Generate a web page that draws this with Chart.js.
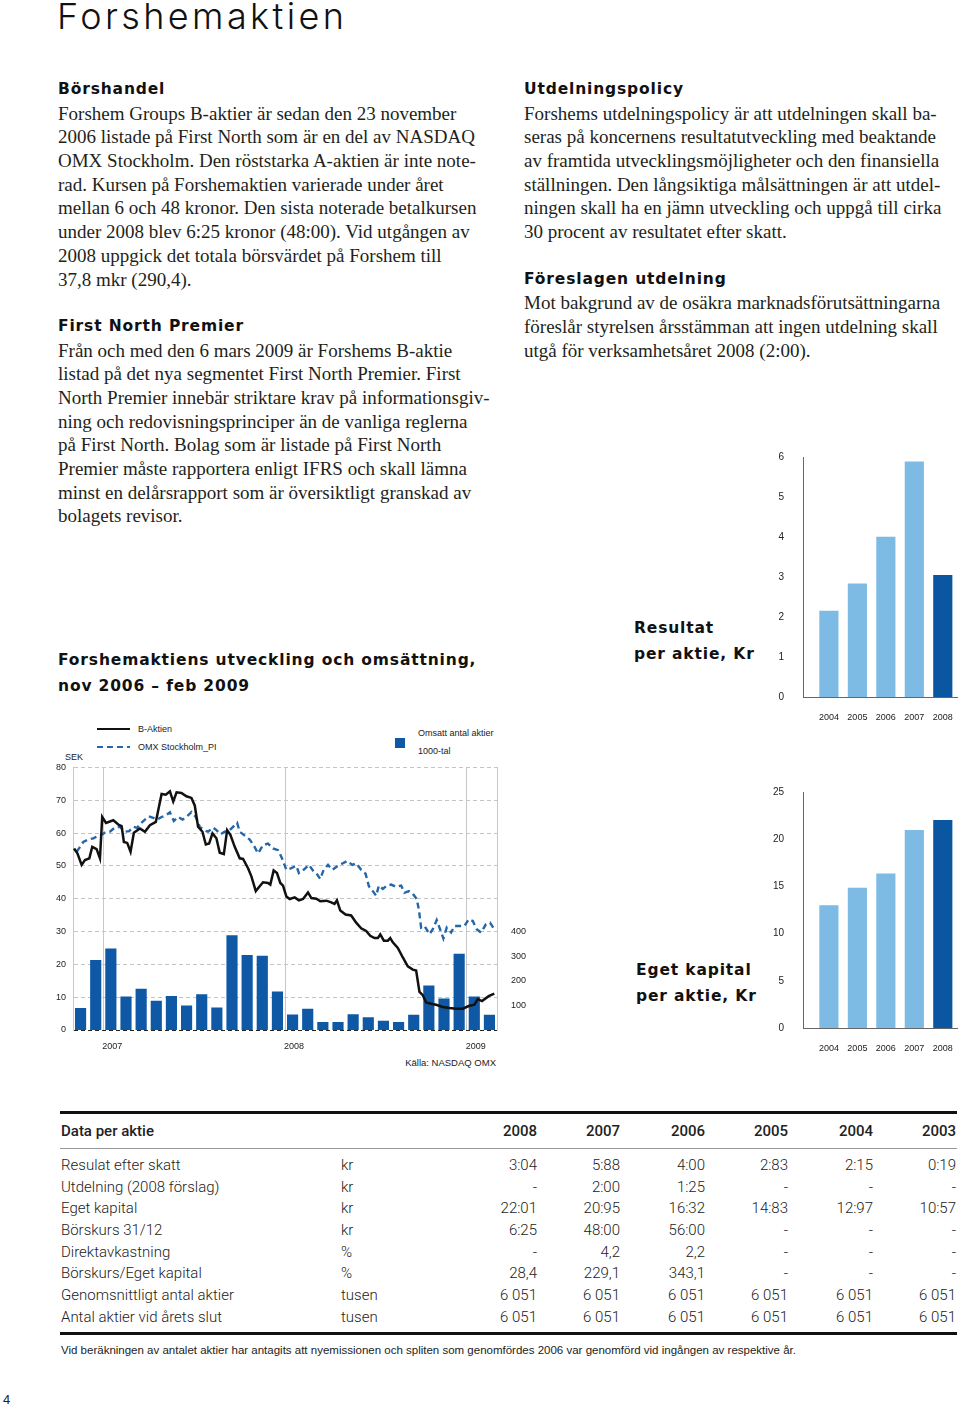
<!DOCTYPE html>
<html lang="sv">
<head>
<meta charset="utf-8">
<title>Forshemaktien</title>
<script src="https://cdn.jsdelivr.net/npm/chart.js@4.4.0/dist/chart.umd.min.js"></script>
<style>
  body { margin: 0; background: #fff; }
  #page { position: relative; width: 960px; height: 1408px; overflow: hidden; color: #231f20; font-family: "Liberation Serif", serif; }
  .abs { position: absolute; white-space: nowrap; }
  .title { left: 57px; top: 1px; font: 300 36px Inter, "Liberation Sans", sans-serif; line-height: 30px; letter-spacing: 3.4px; color: #111; }
  .col { position: absolute; width: 440px; }
  .col div { height: 23.7px; line-height: 23.7px; white-space: nowrap; font-size: 19px; }
  .col div.h, .ch div { font-family: "DejaVu Sans", sans-serif; font-weight: bold; font-size: 15.5px; letter-spacing: 0.85px; color: #111; }
  .ch { position: absolute; }
  .ch div { height: 26px; line-height: 26px; white-space: nowrap; }
  .sm { font: 9px "Liberation Sans", Arial, sans-serif; color: #222; line-height: 12px; }
  canvas { position: absolute; }
  .tbl { position: absolute; left: 61px; border-collapse: collapse; table-layout: fixed; font: 300 15px Roboto, "Liberation Sans", sans-serif; color: #222; }
  .tbl td { padding: 0; white-space: nowrap; }
  .tbl td.n { text-align: right; }
  .tbl.head td { height: 34px; font-weight: 500; }
  .tbl.body td { height: 21.7px; }
  .rule { position: absolute; left: 60px; width: 897px; background: #111; }
</style>
</head>
<body>
<div id="page">
  <div class="abs title">Forshemaktien</div>

  <div class="col" style="left:58px; top:78px;">
    <div class="h">Börshandel</div>
    <div>Forshem Groups B-aktier är sedan den 23 november</div>
    <div>2006 listade på First North som är en del av NASDAQ</div>
    <div>OMX Stockholm. Den röststarka A-aktien är inte note-</div>
    <div>rad. Kursen på Forshemaktien varierade under året</div>
    <div>mellan 6 och 48 kronor. Den sista noterade betalkursen</div>
    <div>under 2008 blev 6:25 kronor (48:00). Vid utgången av</div>
    <div>2008 uppgick det totala börsvärdet på Forshem till</div>
    <div>37,8 mkr (290,4).</div>
    <div></div>
    <div class="h">First North Premier</div>
    <div>Från och med den 6 mars 2009 är Forshems B-aktie</div>
    <div>listad på det nya segmentet First North Premier. First</div>
    <div>North Premier innebär striktare krav på informationsgiv-</div>
    <div>ning och redovisningsprinciper än de vanliga reglerna</div>
    <div>på First North. Bolag som är listade på First North</div>
    <div>Premier måste rapportera enligt IFRS och skall lämna</div>
    <div>minst en delårsrapport som är översiktligt granskad av</div>
    <div>bolagets revisor.</div>
  </div>

  <div class="col" style="left:524px; top:78px;">
    <div class="h">Utdelningspolicy</div>
    <div>Forshems utdelningspolicy är att utdelningen skall ba-</div>
    <div>seras på koncernens resultatutveckling med beaktande</div>
    <div>av framtida utvecklingsmöjligheter och den finansiella</div>
    <div>ställningen. Den långsiktiga målsättningen är att utdel-</div>
    <div>ningen skall ha en jämn utveckling och uppgå till cirka</div>
    <div>30 procent av resultatet efter skatt.</div>
    <div></div>
    <div class="h">Föreslagen utdelning</div>
    <div>Mot bakgrund av de osäkra marknadsförutsättningarna</div>
    <div>föreslår styrelsen årsstämman att ingen utdelning skall</div>
    <div>utgå för verksamhetsåret 2008 (2:00).</div>
  </div>

  <div class="ch" style="left:58px; top:647px;">
    <div>Forshemaktiens utveckling och omsättning,</div>
    <div>nov 2006 – feb 2009</div>
  </div>
  <div class="ch" style="left:634px; top:615px;">
    <div>Resultat</div>
    <div>per aktie, Kr</div>
  </div>
  <div class="ch" style="left:636px; top:957px;">
    <div>Eget kapital</div>
    <div>per aktie, Kr</div>
  </div>

  <!-- legend of the share chart -->
  <div class="abs" style="left:97px; top:727.5px; width:33px; height:2.5px; background:#111;"></div>
  <div class="abs sm" style="left:138px; top:723px;">B-Aktien</div>
  <div class="abs" style="left:97px; top:745.5px; width:33px; height:2.5px; background:repeating-linear-gradient(90deg, #2466a8 0 6px, transparent 6px 10px);"></div>
  <div class="abs sm" style="left:138px; top:741px;">OMX Stockholm_PI</div>
  <div class="abs" style="left:395px; top:738px; width:10px; height:10px; background:#0e58a5;"></div>
  <div class="abs sm" style="left:418px; top:727px;">Omsatt antal aktier</div>
  <div class="abs sm" style="left:418px; top:745px;">1000-tal</div>
  <div class="abs sm" style="left:65px; top:751px;">SEK</div>
  <div class="abs sm" style="left:396px; top:1057px; width:100px; text-align:right; font-size:9.5px;">Källa: NASDAQ OMX</div>

  <canvas id="kurs" width="500" height="300" style="left:30px; top:755px;"></canvas>
  <canvas id="resultat" width="200" height="285" style="left:760px; top:440px;"></canvas>
  <canvas id="eget" width="200" height="285" style="left:760px; top:775px;"></canvas>

  <div class="rule" style="top:1111px; height:3px;"></div>
  <table class="tbl head" style="top:1114px;">
    <colgroup><col style="width:280px"><col style="width:116px"><col style="width:80px"><col style="width:83px"><col style="width:85px"><col style="width:83px"><col style="width:85px"><col style="width:83px"></colgroup>
    <tr><td>Data per aktie</td><td></td><td class="n">2008</td><td class="n">2007</td><td class="n">2006</td><td class="n">2005</td><td class="n">2004</td><td class="n">2003</td></tr>
  </table>
  <div class="rule" style="top:1148px; height:1px; background:#999;"></div>
  <table class="tbl body" style="top:1154px;">
    <colgroup><col style="width:280px"><col style="width:116px"><col style="width:80px"><col style="width:83px"><col style="width:85px"><col style="width:83px"><col style="width:85px"><col style="width:83px"></colgroup>
    <tr><td>Resulat efter skatt</td><td>kr</td><td class="n">3:04</td><td class="n">5:88</td><td class="n">4:00</td><td class="n">2:83</td><td class="n">2:15</td><td class="n">0:19</td></tr>
    <tr><td>Utdelning (2008 förslag)</td><td>kr</td><td class="n">-</td><td class="n">2:00</td><td class="n">1:25</td><td class="n">-</td><td class="n">-</td><td class="n">-</td></tr>
    <tr><td>Eget kapital</td><td>kr</td><td class="n">22:01</td><td class="n">20:95</td><td class="n">16:32</td><td class="n">14:83</td><td class="n">12:97</td><td class="n">10:57</td></tr>
    <tr><td>Börskurs 31/12</td><td>kr</td><td class="n">6:25</td><td class="n">48:00</td><td class="n">56:00</td><td class="n">-</td><td class="n">-</td><td class="n">-</td></tr>
    <tr><td>Direktavkastning</td><td>%</td><td class="n">-</td><td class="n">4,2</td><td class="n">2,2</td><td class="n">-</td><td class="n">-</td><td class="n">-</td></tr>
    <tr><td>Börskurs/Eget kapital</td><td>%</td><td class="n">28,4</td><td class="n">229,1</td><td class="n">343,1</td><td class="n">-</td><td class="n">-</td><td class="n">-</td></tr>
    <tr><td>Genomsnittligt antal aktier</td><td>tusen</td><td class="n">6 051</td><td class="n">6 051</td><td class="n">6 051</td><td class="n">6 051</td><td class="n">6 051</td><td class="n">6 051</td></tr>
    <tr><td>Antal aktier vid årets slut</td><td>tusen</td><td class="n">6 051</td><td class="n">6 051</td><td class="n">6 051</td><td class="n">6 051</td><td class="n">6 051</td><td class="n">6 051</td></tr>
  </table>
  <div class="rule" style="top:1332px; height:3px;"></div>
  <div class="abs" style="left:61px; top:1344px; font:11.5px 'Liberation Sans', Arial, sans-serif; color:#222;">Vid beräkningen av antalet aktier har antagits att nyemissionen och spliten som genomfördes 2006 var genomförd vid ingången av respektive år.</div>
  <div class="abs" style="left:3px; top:1392px; font:13px 'Liberation Sans', Arial, sans-serif; color:#222;">4</div>
</div>

<script>
// tid i månader räknat från 1 nov 2006
var yearTicks = [2, 14, 26];
var yearLabels = ['2007', '2008', '2009'];

// omsatt antal aktier per månad (1000-tal), nov 2006 - feb 2009
var volume = [88, 283, 330, 135, 166, 117, 137, 98, 144, 90, 384, 303, 300, 155,
    62, 85, 31, 31, 63, 50, 36, 31, 61, 179, 127, 308, 135, 61];

// B-Aktien, SEK
var bT = [0.07, 0.29, 0.57, 0.79, 1.08, 1.27, 1.56, 1.78, 1.93, 2.18,
    2.66, 2.99, 3.21, 3.36, 3.58, 3.80, 4.02, 4.42, 4.75, 5.08,
    5.47, 5.85, 6.13, 6.40, 6.62, 6.84, 7.16, 7.49, 7.82, 8.04,
    8.26, 8.55, 8.77, 8.99, 9.21, 9.47, 9.69, 9.96, 10.18, 10.40,
    10.68, 11.01, 11.23, 11.56, 11.78, 12.07, 12.33, 12.55, 12.88, 13.03,
    13.25, 13.47, 13.69, 13.87, 14.09, 14.31, 14.64, 14.92, 15.19, 15.52,
    15.74, 16.07, 16.33, 16.73, 17.05, 17.27, 17.43, 17.65, 18.00, 18.37,
    18.70, 19.03, 19.36, 19.63, 19.91, 20.13, 20.29, 20.53, 20.79, 20.95,
    21.12, 21.45, 21.78, 22.11, 22.44, 22.66, 22.88, 23.10, 23.32, 23.65,
    23.98, 24.42, 24.86, 25.30, 25.74, 26.13, 26.51, 26.73, 27.01, 27.45,
    27.82];
var bSek = [55.3, 53.8, 50.3, 51.8, 52.3, 55.8, 55.1, 52.3, 64.9, 63.1,
    63.9, 62.6, 62.1, 57.3, 57.0, 54.3, 60.1, 61.4, 60.4, 62.4,
    63.4, 71.9, 71.7, 72.7, 69.6, 72.4, 72.2, 71.2, 70.7, 68.4,
    61.9, 60.4, 56.5, 56.8, 59.9, 58.4, 54.0, 53.6, 60.9, 59.4,
    55.8, 52.3, 52.1, 49.3, 46.8, 42.3, 43.8, 45.0, 44.8, 44.3,
    48.6, 47.8, 44.8, 44.0, 40.7, 39.9, 40.4, 39.5, 39.9, 41.9,
    40.2, 40.0, 39.2, 39.4, 38.9, 38.4, 39.5, 36.4, 35.2, 34.9,
    32.7, 31.0, 30.2, 28.7, 28.0, 28.0, 29.1, 27.2, 27.2, 28.0,
    26.7, 25.0, 22.1, 19.4, 18.4, 18.1, 11.6, 10.6, 8.4, 8.0,
    7.7, 7.0, 6.7, 6.5, 6.5, 7.3, 7.7, 9.4, 8.8, 10.3,
    11.1];

// OMX Stockholm_PI, omräknat till SEK-skalan
var omxT = [0.24, 0.42, 0.68, 1.01, 1.34, 1.56, 1.78, 2.11, 2.44, 2.77,
    3.10, 3.43, 3.71, 3.98, 4.24, 4.46, 4.75, 5.01, 5.30, 5.56,
    5.85, 6.13, 6.40, 6.66, 6.95, 7.23, 7.49, 7.82, 8.11, 8.37,
    8.64, 8.92, 9.25, 9.47, 9.74, 10.02, 10.31, 10.57, 10.84, 11.01,
    11.34, 11.67, 11.93, 12.22, 12.55, 12.88, 13.21, 13.54, 13.80, 14.09,
    14.42, 14.75, 14.92, 15.23, 15.58, 15.89, 16.07, 16.33, 16.55, 16.84,
    17.12, 17.43, 17.82, 18.11, 18.44, 18.70, 19.03, 19.32, 19.54, 19.80,
    20.02, 20.20, 20.46, 20.73, 21.01, 21.34, 21.67, 21.89, 22.18, 22.44,
    22.70, 22.84, 22.99, 23.21, 23.54, 23.76, 24.02, 24.24, 24.46, 24.68,
    24.97, 25.19, 25.52, 25.85, 26.13, 26.40, 26.66, 26.95, 27.27, 27.54,
    27.82];
var omxSek = [54.3, 55.5, 57.3, 58.0, 58.4, 58.9, 59.2, 60.1, 60.4, 61.7,
    61.9, 60.4, 60.6, 61.9, 61.6, 62.9, 64.1, 65.1, 64.6, 64.1,
    64.9, 65.4, 66.3, 63.7, 64.9, 64.1, 64.9, 66.4, 64.9, 61.9,
    60.9, 60.4, 61.7, 60.9, 59.6, 60.4, 60.7, 61.9, 63.1, 60.4,
    59.2, 58.0, 56.3, 53.8, 56.3, 56.8, 55.3, 54.8, 52.3, 48.8,
    49.3, 50.0, 47.8, 48.8, 50.3, 48.3, 47.8, 46.0, 48.8, 50.3,
    48.8, 49.8, 50.8, 51.5, 50.3, 50.8, 48.8, 47.6, 43.8, 42.3,
    40.9, 44.0, 43.0, 44.0, 44.3, 43.6, 44.0, 41.8, 42.3, 41.5,
    39.9, 36.7, 31.2, 31.7, 29.2, 30.7, 33.5, 30.7, 27.9, 31.2,
    29.7, 31.7, 31.7, 31.7, 33.7, 33.2, 30.7, 29.7, 32.2, 32.7,
    30.7];

var sekTicks = [0, 10, 20, 30, 40, 50, 60, 70, 80];
var volTicks = [100, 200, 300, 400];

// små stapeldiagram
var years = ['2004', '2005', '2006', '2007', '2008'];
var resultat = [2.15, 2.83, 4.00, 5.88, 3.04];
var egetKapital = [12.97, 14.83, 16.32, 20.95, 22.01];

var font9 = { family: 'Liberation Sans, Arial, sans-serif', size: 9 };

new Chart(document.getElementById('kurs'), {
    type: 'bar',
    data: {
        datasets: [{
            type: 'line',
            data: bT.map((t, i) => ({ x: t, y: bSek[i] })),
            borderColor: '#111',
            borderWidth: 2.5,
            pointRadius: 0,
            order: 1
        }, {
            type: 'line',
            data: omxT.map((t, i) => ({ x: t, y: omxSek[i] })),
            borderColor: '#2466a8',
            borderWidth: 2.4,
            borderDash: [6, 4],
            pointRadius: 0,
            order: 2
        }, {
            type: 'bar',
            data: volume.map((v, i) => ({ x: i + 0.5, y: v })),
            yAxisID: 'y2',
            backgroundColor: '#0e58a5',
            barThickness: 10.5,
            order: 3
        }]
    },
    options: {
        responsive: false,
        animation: false,
        layout: { padding: { top: 10 } },
        plugins: { legend: { display: false }, tooltip: { enabled: false } },
        scales: {
            x: {
                type: 'linear',
                min: 0,
                max: 28,
                offset: false,
                afterFit: s => { s.height = 25; },
                afterBuildTicks: s => { s.ticks = yearTicks.map(v => ({ value: v })); },
                grid: { color: '#c8c8c8', drawTicks: false, offset: false },
                border: { display: false },
                ticks: {
                    font: font9, color: '#222', padding: 11, labelOffset: 9,
                    callback: v => yearLabels[yearTicks.indexOf(v)]
                }
            },
            y: {
                min: 0,
                max: 80,
                afterFit: s => { s.width = 43; },
                afterBuildTicks: s => { s.ticks = sekTicks.map(v => ({ value: v })); },
                grid: { color: c => c.tick && c.tick.value === 0 ? '#222' : '#c4c4c4', drawTicks: false },
                border: { color: '#c8c8c8', dash: [4, 3] },
                ticks: { font: font9, color: '#222', padding: 7 }
            },
            y2: {
                position: 'right',
                min: 0,
                max: 400 * 80 / 30,
                afterFit: s => { s.width = 33; },
                afterBuildTicks: s => { s.ticks = volTicks.map(v => ({ value: v })); },
                grid: { display: false },
                border: { color: '#c8c8c8' },
                ticks: { font: font9, color: '#222', padding: 6 }
            }
        }
    }
});

function smallChart(id, values, maxY, step, topPad, bottomH) {
    new Chart(document.getElementById(id), {
        type: 'bar',
        data: {
            datasets: [{
                data: values.map((v, i) => ({ x: i, y: v })),
                backgroundColor: years.map(y => y === '2008' ? '#0a56a0' : '#7dbbe5'),
                barThickness: 18.5
            }]
        },
        options: {
            responsive: false,
            animation: false,
            layout: { padding: { top: topPad, right: 2 } },
            plugins: { legend: { display: false }, tooltip: { enabled: false } },
            scales: {
                x: {
                    type: 'linear',
                    min: -0.91,
                    max: 4.53,
                    offset: false,
                    afterFit: s => { s.height = bottomH; },
                    afterBuildTicks: s => { s.ticks = years.map((y, i) => ({ value: i })); },
                    grid: { display: false, offset: false },
                    border: { color: '#666' },
                    ticks: { font: font9, color: '#222', padding: 7, callback: v => years[v] }
                },
                y: {
                    min: 0,
                    max: maxY,
                    afterFit: s => { s.width = 43; },
                    grid: { display: false },
                    border: { color: '#666' },
                    ticks: { stepSize: step, font: { family: 'Liberation Sans, Arial, sans-serif', size: 10 }, color: '#222', padding: 11 }
                }
            }
        }
    });
}

smallChart('resultat', resultat, 6, 1, 15, 28);
smallChart('eget', egetKapital, 25, 5, 12, 32);
</script>
</body>
</html>
